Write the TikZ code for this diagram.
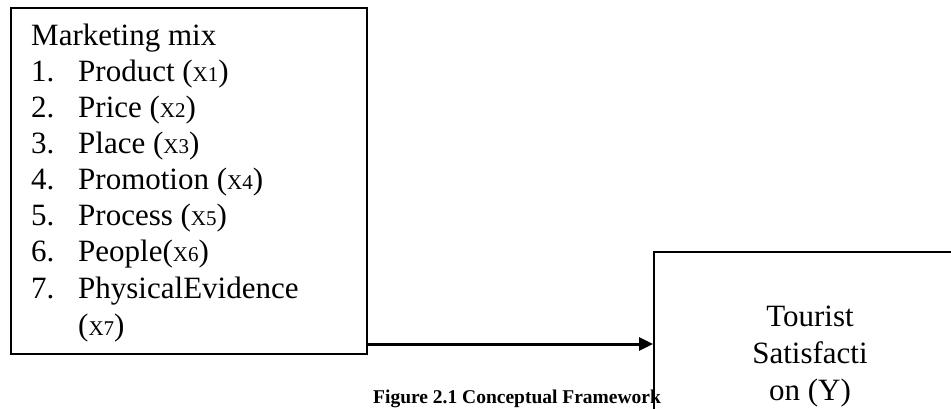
\documentclass[tikz,border=0pt]{standalone}
\usepackage{fontspec}
\setmainfont{Liberation Serif}
\usetikzlibrary{arrows.meta,calc}
\newcommand{\xsub}[1]{({\fontsize{21pt}{21pt}\selectfont X#1})}
\tikzset{
  box/.style={draw, line width=1.5pt, inner sep=0pt},
  txt/.style={anchor=base west, inner sep=0pt, font=\fontsize{31pt}{36pt}\selectfont},
  ctxt/.style={anchor=base, inner sep=0pt, font=\fontsize{31pt}{36pt}\selectfont},
  conn/.style={line width=3pt, -{Triangle[length=14pt,width=13pt]}},
  captxt/.style={anchor=base west, inner sep=0pt, font=\bfseries\fontsize{19.5pt}{22pt}\selectfont}
}
\begin{document}
\begin{tikzpicture}[x=1pt,y=-1pt]
\clip (0,0) rectangle (951,408);
\fill[white] (0,0) rectangle (951,408);
% left box
\node[box, anchor=north west, minimum width=356pt, minimum height=346pt] (mm) at (10,7) {};
\node[txt] (t0) at (31,45) {Marketing mix};
\node[txt] (n1) at (31,81) {1.};
\node[txt] (i1) at (78,81) {Product \xsub{1}};
\node[txt] (n2) at (31,117) {2.};
\node[txt] (i2) at (78,117) {Price \xsub{2}};
\node[txt] (n3) at (31,153) {3.};
\node[txt] (i3) at (78,153) {Place \xsub{3}};
\node[txt] (n4) at (31,189) {4.};
\node[txt] (i4) at (78,189) {Promotion \xsub{4}};
\node[txt] (n5) at (31,225) {5.};
\node[txt] (i5) at (78,225) {Process \xsub{5}};
\node[txt] (n6) at (31,261) {6.};
\node[txt] (i6) at (78,261) {People\xsub{6}};
\node[txt] (n7) at (31,298) {7.};
\node[txt] (i7) at (78,298) {PhysicalEvidence};
\node[txt] (i7b) at (78,335) {\xsub{7}};
% right box
\node[box, anchor=north west, minimum width=320pt, minimum height=220pt] (ts) at (653,251) {};
\node[ctxt] (y1) at (810,326) {Tourist};
\node[ctxt] (y2) at (810,363) {Satisfacti};
\node[ctxt] (y3) at (810,400) {on (Y)};
% connector
\coordinate (a0) at (mm.east |- 0,344);
\draw[conn] (a0) -- (a0 -| ts.west);
% caption
\node[captxt] (cap) at (373,403) {Figure 2.1 Conceptual Framework};
\end{tikzpicture}
\end{document}
